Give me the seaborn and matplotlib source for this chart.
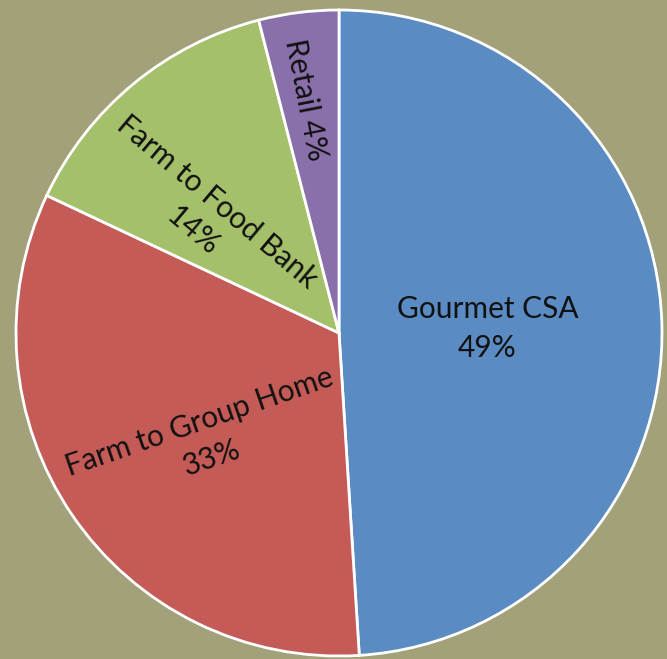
import numpy as np
import matplotlib.pyplot as plt
import seaborn as sns

# slice data, in drawing order (clockwise from 12 o'clock)
categories = ["Gourmet CSA", "Farm to Group Home", "Farm to Food Bank", "Retail"]
shares     = [49, 33, 14, 4]
colors     = ["#5b8bc3", "#c55b57", "#a5c06a", "#8a70aa"]

# label placement: distance from centre (fraction of radius),
# angular shift from the slice middle (deg) and text rotation
label_dist  = [0.46, 0.53, 0.55, 0.73]
label_shift = [0, 4.5, 9.5, 1]
label_rot   = [0, 19, -40, -79]

sns.set_theme(style="white")
plt.rcParams['font.family'] = ['Lato', 'DejaVu Sans']

bg = "#a2a17a"
fig = plt.figure(figsize=(6.67, 6.59), dpi=100, facecolor=bg)
ax = fig.add_axes([16/667, 3/659, 646/667, 646/659])
ax.set_facecolor(bg)

wedges, _ = ax.pie(shares, colors=colors, startangle=90, counterclock=False,
                   wedgeprops=dict(edgecolor="white", linewidth=2))

for w, name, val, d, sh, rot in zip(wedges, categories, shares,
                                    label_dist, label_shift, label_rot):
    mid = np.deg2rad((w.theta1 + w.theta2) / 2 + sh)
    x, y = d * np.cos(mid), d * np.sin(mid)
    if name == "Retail":
        txt = f"{name} {val}%"
    else:
        txt = f"{name}\n{val}%"
    ax.text(x, y, txt, ha="center", va="center", rotation=rot,
            rotation_mode="anchor", fontsize=21.5, color="#111111",
            linespacing=1.45)

ax.set_xlim(-1, 1)
ax.set_ylim(-1, 1)
ax.set_aspect("equal")
ax.axis("off")

plt.savefig("out.png", dpi=100, facecolor=bg)
